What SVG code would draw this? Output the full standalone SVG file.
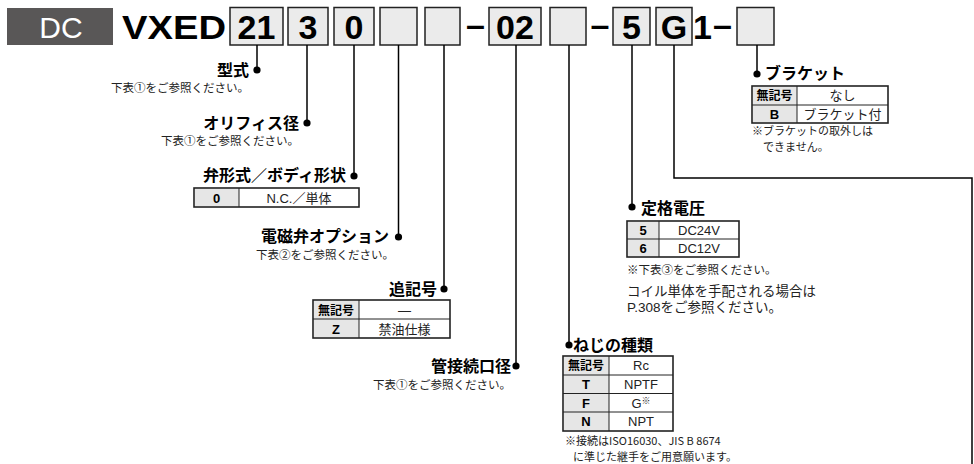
<svg xmlns="http://www.w3.org/2000/svg" width="974" height="464" viewBox="0 0 974 464">
<style>
.code{font-family:"Liberation Sans",Arial,sans-serif;font-weight:bold;font-size:34px;fill:#000}
.box{fill:#ebebeb;stroke:#222;stroke-width:1.5}
.ln{fill:none;stroke:#000;stroke-width:1.5}
.lbl{font-family:"Noto Sans CJK JP",sans-serif;font-weight:bold;font-size:16px;fill:#000}
.sub{font-family:"Noto Sans CJK JP",sans-serif;font-size:11.5px;fill:#222}
.sm{font-family:"Noto Sans CJK JP",sans-serif;font-size:11px;fill:#222}
.note{font-family:"Liberation Sans","Noto Sans CJK JP",sans-serif;font-size:13.5px;fill:#222}
.tc{font-family:"Liberation Sans","Noto Sans CJK JP",sans-serif;font-size:13px;fill:#222;text-anchor:middle}
.tk{font-family:"Liberation Sans","Noto Sans CJK JP",sans-serif;font-size:13px;font-weight:bold;fill:#000;text-anchor:middle}
.tko{font-family:"Noto Sans CJK JP",sans-serif;font-size:12px;font-weight:bold;fill:#000;text-anchor:middle}
.to{fill:#fff;stroke:#222;stroke-width:1.6}
.tg{fill:#e6e6e6}
.ti{stroke:#222;stroke-width:1}
.dot{fill:#000}
</style>

<g id="header">
<rect x="7" y="8" width="106" height="37" fill="#595757"/>
<text x="61" y="37.5" font-family="Liberation Sans,Arial,sans-serif" font-size="30" fill="#fff" text-anchor="middle">DC</text>
<text class="code" x="122" y="39" font-size="36" textLength="104" lengthAdjust="spacingAndGlyphs">VXED</text>
<rect class="box" x="230" y="7.5" width="53" height="37.5"/>
<text class="code" x="256.5" y="39" text-anchor="middle">21</text>
<rect class="box" x="288" y="7.5" width="40" height="37.5"/>
<text class="code" x="308" y="39" text-anchor="middle">3</text>
<rect class="box" x="334" y="7.5" width="40" height="37.5"/>
<text class="code" x="354" y="39" text-anchor="middle">0</text>
<rect class="box" x="380" y="7.5" width="37" height="37.5"/>
<rect class="box" x="425" y="7.5" width="35" height="37.5"/>
<text class="code" x="475.5" y="36" text-anchor="middle" font-size="28">–</text>
<rect class="box" x="489" y="7.5" width="52" height="37.5"/>
<text class="code" x="515" y="39" text-anchor="middle">02</text>
<rect class="box" x="550" y="7.5" width="36" height="37.5"/>
<text class="code" x="600" y="36" text-anchor="middle" font-size="28">–</text>
<rect class="box" x="613" y="7.5" width="37" height="37.5"/>
<text class="code" x="631.5" y="39" text-anchor="middle">5</text>
<rect class="box" x="656" y="7.5" width="36" height="37.5"/>
<text class="code" x="674" y="39" text-anchor="middle">G</text>
<text class="code" x="693" y="39">1</text>
<text class="code" x="722.5" y="36" text-anchor="middle" font-size="28">–</text>
<rect class="box" x="737" y="7.5" width="37" height="37.5"/>
</g>

<g id="connectors">
<polyline class="ln" points="257,45 257,70"/>
<polyline class="ln" points="307,45 307,123"/>
<polyline class="ln" points="354,45 354,176"/>
<polyline class="ln" points="398.5,45 398.5,237"/>
<polyline class="ln" points="444,45 444,289"/>
<polyline class="ln" points="516,45 516,366"/>
<polyline class="ln" points="569,45 569,345"/>
<polyline class="ln" points="632,45 632,207"/>
<polyline class="ln" points="674,45 674,178 972,178 972,464"/>
<polyline class="ln" points="757,45 757,74"/>
<circle class="dot" cx="257" cy="70" r="3.6"/>
<circle class="dot" cx="307" cy="123" r="3.6"/>
<circle class="dot" cx="354" cy="176" r="3.6"/>
<circle class="dot" cx="398.5" cy="237" r="3.6"/>
<circle class="dot" cx="444" cy="289" r="3.6"/>
<circle class="dot" cx="516" cy="366" r="3.6"/>
<circle class="dot" cx="569" cy="345" r="3.6"/>
<circle class="dot" cx="632" cy="207" r="3.6"/>
<circle class="dot" cx="757" cy="74" r="3.6"/>
</g>

<g id="model">
<text class="lbl" x="249" y="76" text-anchor="end">型式</text>
<text class="sub" x="249" y="92" text-anchor="end">下表①をご参照ください。</text>
</g>

<g id="orifice">
<text class="lbl" x="299" y="129" text-anchor="end">オリフィス径</text>
<text class="sub" x="299" y="145" text-anchor="end">下表①をご参照ください。</text>
</g>

<g id="valve-type">
<text class="lbl" x="346" y="181" text-anchor="end">弁形式／ボディ形状</text>
<rect class="to" x="194" y="188" width="165" height="19"/>
<rect class="tg" x="195" y="189" width="44" height="17"/>
<line class="ti" x1="239" y1="188" x2="239" y2="207"/>
<text class="tk" x="216.5" y="202.5">0</text>
<text class="tc" x="299" y="202.5">N.C.／単体</text>
</g>

<g id="option">
<text class="lbl" x="389" y="242" text-anchor="end">電磁弁オプション</text>
<text class="sub" x="256" y="259">下表②をご参照ください。</text>
</g>

<g id="suffix">
<text class="lbl" x="437" y="295" text-anchor="end">追記号</text>
<rect class="to" x="313" y="300" width="137" height="38"/>
<rect class="tg" x="314" y="301" width="45" height="36"/>
<line class="ti" x1="359" y1="300" x2="359" y2="338"/>
<line class="ti" x1="313" y1="319" x2="450" y2="319"/>
<text class="tko" x="336" y="314.5">無記号</text>
<text class="tc" x="404.5" y="314.5">—</text>
<text class="tk" x="336" y="333.5">Z</text>
<text class="tc" x="404.5" y="333.5">禁油仕様</text>
</g>

<g id="port">
<text class="lbl" x="511" y="372" text-anchor="end">管接続口径</text>
<text class="sub" x="511" y="389" text-anchor="end">下表①をご参照ください。</text>
</g>

<g id="thread">
<text class="lbl" x="573" y="351">ねじの種類</text>
<rect class="to" x="563" y="356" width="110" height="75"/>
<rect class="tg" x="564" y="357" width="45" height="73"/>
<line class="ti" x1="609" y1="356" x2="609" y2="431"/>
<line class="ti" x1="563" y1="375" x2="673" y2="375"/>
<line class="ti" x1="563" y1="393.5" x2="673" y2="393.5"/>
<line class="ti" x1="563" y1="412" x2="673" y2="412"/>
<text class="tko" x="586" y="370">無記号</text>
<text class="tc" x="641" y="370">Rc</text>
<text class="tk" x="586" y="389">T</text>
<text class="tc" x="641" y="389">NPTF</text>
<text class="tk" x="586" y="407.5">F</text>
<text class="tc" x="641" y="407.5">G<tspan font-size="9" dy="-4">※</tspan></text>
<text class="tk" x="586" y="426">N</text>
<text class="tc" x="641" y="426">NPT</text>
<text class="sm" font-size="10.5" x="565" y="445">※接続はISO16030、JIS B 8674</text>
<text class="sm" font-size="10.5" x="573" y="460.5">に準じた継手をご用意願います。</text>
</g>

<g id="voltage">
<text class="lbl" x="641" y="214">定格電圧</text>
<rect class="to" x="627" y="221" width="112" height="36"/>
<rect class="tg" x="628" y="222" width="31" height="34"/>
<line class="ti" x1="659" y1="221" x2="659" y2="257"/>
<line class="ti" x1="627" y1="239" x2="739" y2="239"/>
<text class="tk" x="643" y="235">5</text>
<text class="tc" x="699" y="235">DC24V</text>
<text class="tk" x="643" y="253">6</text>
<text class="tc" x="699" y="253">DC12V</text>
<text class="sub" x="627" y="274">※下表③をご参照ください。</text>
<text class="note" x="627" y="296">コイル単体を手配される場合は</text>
<text class="note" x="627" y="312">P.308をご参照ください。</text>
</g>

<g id="bracket">
<text class="lbl" x="765" y="79">ブラケット</text>
<rect class="to" x="752" y="86" width="136" height="37"/>
<rect class="tg" x="753" y="87" width="44" height="35"/>
<line class="ti" x1="797" y1="86" x2="797" y2="123"/>
<line class="ti" x1="752" y1="105" x2="888" y2="105"/>
<text class="tko" x="774.5" y="100">無記号</text>
<text class="tc" x="842.5" y="100">なし</text>
<text class="tk" x="774.5" y="119">B</text>
<text class="tc" x="842.5" y="119">ブラケット付</text>
<text class="sm" x="752" y="135">※ブラケットの取外しは</text>
<text class="sm" x="763" y="151">できません。</text>
</g>
</svg>
